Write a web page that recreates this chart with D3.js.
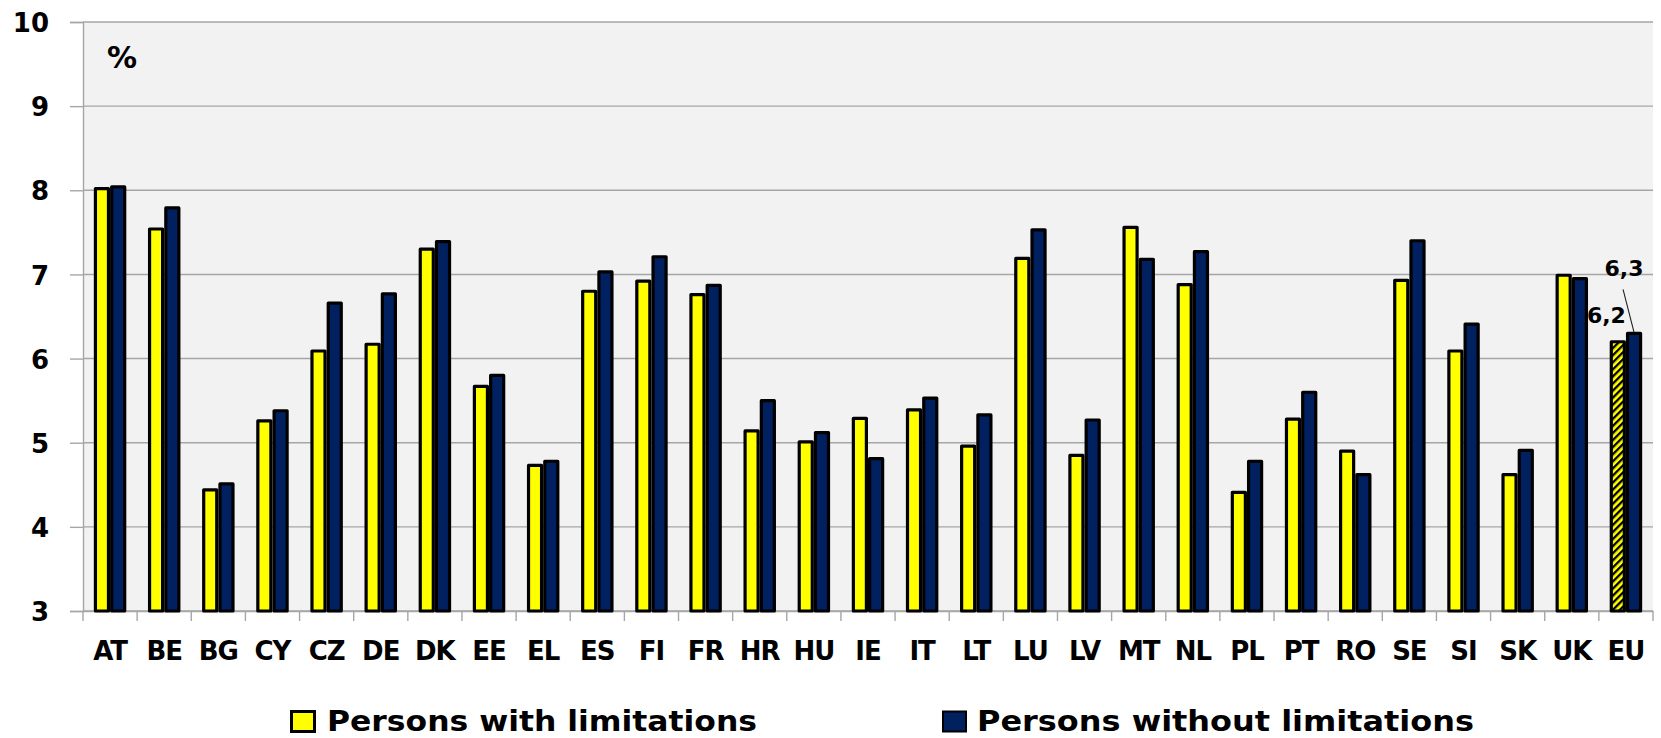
<!DOCTYPE html>
<html>
<head>
<meta charset="utf-8">
<script src="https://cdn.jsdelivr.net/npm/d3@7"></script>
<style>
  html, body { margin: 0; padding: 0; background: #ffffff; }
  svg { display: block; }
  text { font-family: "DejaVu Sans", Verdana, sans-serif; fill: #000; }
</style>
</head>
<body>
<svg id="chart" width="1661" height="738"></svg>
<script>
// Countries (EU aggregate last)
const categories = ["AT","BE","BG","CY","CZ","DE","DK","EE","EL","ES","FI","FR","HR","HU","IE",
  "IT","LT","LU","LV","MT","NL","PL","PT","RO","SE","SI","SK","UK","EU"];

// Share (%) for each group
const withLimitations = [8.02, 7.54, 4.44, 5.26, 6.09, 6.17, 7.30, 5.67, 4.73, 6.80, 6.92, 6.76, 5.14, 5.01, 5.29,
  5.39, 4.96, 7.19, 4.85, 7.56, 6.88, 4.41, 5.28, 4.90, 6.93, 6.09, 4.62, 6.99, 6.2];
const withoutLimitations = [8.04, 7.79, 4.51, 5.38, 6.66, 6.77, 7.39, 5.80, 4.78, 7.03, 7.21, 6.87, 5.50, 5.12, 4.81,
  5.53, 5.33, 7.53, 5.27, 7.18, 7.27, 4.78, 5.60, 4.62, 7.40, 6.41, 4.91, 6.95, 6.3];

const seriesNames = ["Persons with limitations", "Persons without limitations"];
const yTicks = [3, 4, 5, 6, 7, 8, 9, 10];
const labelledCategories = ["EU"];   // value labels shown for these
const aggregateCategories = ["EU"];  // hatched fill for the first series

const colors = { with: "#ffff00", without: "#002060" };

const svg = d3.select("#chart");
const plotLeft = 83, plotRight = 1653, plotTop = 22, plotBottom = 611;

const x = d3.scaleBand().domain(categories).range([plotLeft, plotRight]).padding(0);
const x1 = d3.scaleBand().domain(seriesNames)
  .range([x.bandwidth() * 0.2, x.bandwidth() * 0.8]).padding(0);
const y = d3.scaleLinear().domain([3, 10]).range([plotBottom, plotTop]);

// Hatch pattern for the aggregate bar
const defs = svg.append("defs");
const pat = defs.append("pattern")
  .attr("id", "hatch").attr("patternUnits", "userSpaceOnUse")
  .attr("width", 5).attr("height", 5)
  .attr("patternTransform", "rotate(-45)");
pat.append("rect").attr("width", 5).attr("height", 5).attr("fill", colors.with);
pat.append("rect").attr("x", 0).attr("y", 0).attr("width", 5).attr("height", 2.3).attr("fill", "#000");

// Plot background
svg.append("rect")
  .attr("x", plotLeft).attr("y", plotTop)
  .attr("width", plotRight - plotLeft).attr("height", plotBottom - plotTop)
  .attr("fill", "#f2f2f2");

// Horizontal gridlines
svg.append("g").selectAll("line").data(yTicks).join("line")
  .attr("x1", plotLeft).attr("x2", plotRight)
  .attr("y1", d => y(d)).attr("y2", d => y(d))
  .attr("stroke", "#a6a6a6").attr("stroke-width", 1.4);

// Y axis
const yAxis = svg.append("g")
  .attr("transform", `translate(${plotLeft},0)`)
  .call(d3.axisLeft(y).tickValues(yTicks).tickFormat(d3.format("d")).tickSize(13).tickPadding(21));
yAxis.select(".domain").attr("stroke", "#a6a6a6").attr("stroke-width", 1.4);
yAxis.selectAll(".tick line").attr("stroke", "#a6a6a6").attr("stroke-width", 1.4);
yAxis.selectAll(".tick text")
  .attr("dy", "0.37em")
  .style("font-family", "'DejaVu Sans', Verdana, sans-serif")
  .style("font-size", "26px").style("font-weight", "bold").attr("fill", "#000");

// X axis (labels at band centres, ticks at band boundaries)
const xAxis = svg.append("g")
  .attr("transform", `translate(0,${plotBottom})`)
  .call(d3.axisBottom(x).tickSize(0).tickPadding(30.5));
xAxis.select(".domain").attr("stroke", "#a6a6a6").attr("stroke-width", 1.4);
xAxis.selectAll(".tick text")
  .style("font-family", "'DejaVu Sans', Verdana, sans-serif")
  .style("font-size", "26px").style("font-weight", "bold")
  .attr("letter-spacing", "-1px").attr("fill", "#000");

const boundaries = categories.map(c => x(c)).concat([plotRight]);
svg.append("g").selectAll("line").data(boundaries).join("line")
  .attr("x1", d => d).attr("x2", d => d)
  .attr("y1", plotBottom).attr("y2", plotBottom + 10)
  .attr("stroke", "#a6a6a6").attr("stroke-width", 1.4);

// Bars
const sw = 3.2;
const rows = categories.map((c, i) => ({
  cat: c,
  values: [
    { s: seriesNames[0], v: withLimitations[i], fill: aggregateCategories.includes(c) ? "url(#hatch)" : colors.with },
    { s: seriesNames[1], v: withoutLimitations[i], fill: colors.without }
  ]
}));

const groups = svg.append("g").selectAll("g").data(rows).join("g")
  .attr("transform", d => `translate(${x(d.cat)},0)`);

groups.selectAll("rect").data(d => d.values).join("rect")
  .attr("x", d => x1(d.s) + sw / 2)
  .attr("width", x1.bandwidth() - sw)
  .attr("y", d => y(d.v))
  .attr("height", d => y(3) - y(d.v))
  .attr("fill", d => d.fill)
  .attr("stroke", "#000")
  .attr("stroke-width", sw)
  .attr("stroke-linejoin", "round");

// Value labels for the EU aggregate
const fmt = v => d3.format(".1f")(v).replace(".", ",");
const labelRows = rows.filter(r => labelledCategories.includes(r.cat));
labelRows.forEach(r => {
  const g = svg.append("g").attr("transform", `translate(${x(r.cat)},0)`);
  const a = r.values[0], b = r.values[1];
  const ax = x1(a.s), bx = x1(b.s) + x1.bandwidth() / 2;
  g.append("text")
    .attr("x", ax + x1.bandwidth()).attr("y", y(a.v) - 19)
    .attr("text-anchor", "end")
    .style("font-size", "22px").style("font-weight", "bold").attr("fill", "#1a1a1a")
    .text(fmt(a.v));
  g.append("text")
    .attr("x", bx - 10).attr("y", y(b.v) - 57)
    .attr("text-anchor", "middle")
    .style("font-size", "22px").style("font-weight", "bold").attr("fill", "#1a1a1a")
    .text(fmt(b.v));
  g.append("line")
    .attr("x1", bx - 11).attr("y1", y(b.v) - 44)
    .attr("x2", bx).attr("y2", y(b.v) - 1)
    .attr("stroke", "#222").attr("stroke-width", 1.1);
});

// Unit label
svg.append("text")
  .attr("x", 107).attr("y", 68)
  .style("font-size", "30px").style("font-weight", "bold")
  .text("%");

// Legend
const legendItems = [
  { name: seriesNames[0], fill: colors.with, bx: 291.5, tx: 327, len: 430, stroke: 3 },
  { name: seriesNames[1], fill: colors.without, bx: 943, tx: 977, len: 497, stroke: 2 }
];
const legend = svg.append("g");
legendItems.forEach(it => {
  legend.append("rect")
    .attr("x", it.bx).attr("y", 711.5).attr("width", 23).attr("height", 20)
    .attr("fill", it.fill).attr("stroke", "#000").attr("stroke-width", it.stroke);
  legend.append("text")
    .attr("x", it.tx).attr("y", 731)
    .attr("textLength", it.len).attr("lengthAdjust", "spacingAndGlyphs")
    .style("font-size", "28px").style("font-weight", "bold")
    .text(it.name);
});
</script>
</body>
</html>
